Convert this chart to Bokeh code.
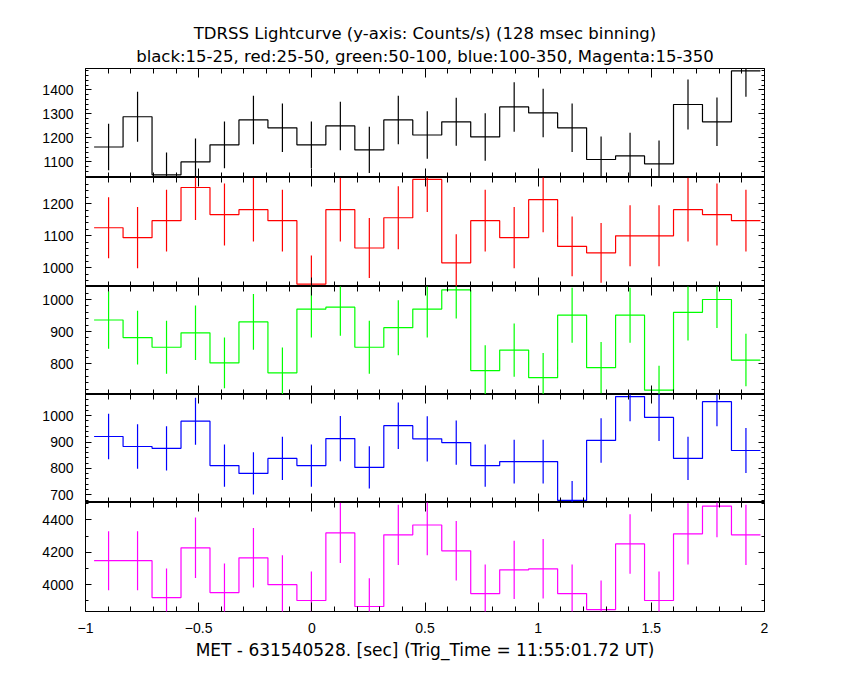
from bokeh.plotting import figure
from bokeh.models import LinearAxis, Title, SingleIntervalTicker, FixedTicker, Range1d
from bokeh.layouts import column
from bokeh.embed import file_html
from bokeh.resources import INLINE

# ---------------- data ----------------
bin_start = -0.962      # left edge of first 128 ms bin (s)
bin_width = 0.128       # bin width (s)

black_rate = [1162, 1288, 1046, 1100, 1171, 1275, 1242, 1171, 1250, 1150, 1275, 1212,
              1267, 1204, 1329, 1304, 1242, 1110, 1125, 1092, 1339, 1267, 1479]
black_err = [97, 104, 93, 97, 97, 101, 101, 97, 101, 96, 101, 99,
             100, 99, 103, 101, 101, 96, 96, 97, 104, 101, 108]

red_rate = [1125, 1094, 1147, 1250, 1166, 1181, 1147, 950, 1181, 1062, 1156, 1275,
            1016, 1147, 1094, 1212, 1067, 1047, 1100, 1100, 1181, 1166, 1147]
red_err = [95, 95, 96, 101, 96, 99, 96, 89, 99, 93, 98, 101,
           89, 96, 95, 101, 93, 93, 95, 95, 99, 96, 96]

green_rate = [936, 881, 851, 896, 802, 930, 771, 970, 976, 851, 912, 970,
              1030, 778, 842, 756, 951, 787, 951, 717, 960, 1000, 811]
green_err = [90, 84, 83, 85, 79, 87, 79, 89, 89, 83, 86, 89,
             89, 79, 83, 77, 86, 80, 86, 76, 88, 89, 82]

blue_rate = [921, 883, 876, 979, 811, 781, 838, 811, 913, 804, 962, 912,
             898, 811, 826, 826, 679, 906, 1072, 993, 838, 1053, 868]
blue_err = [86, 84, 84, 89, 80, 80, 82, 80, 86, 80, 88, 86,
            84, 80, 83, 83, 73, 84, 93, 89, 82, 93, 85]

magenta_rate = [4148, 4148, 3920, 4228, 3951, 4166, 4000, 3902, 4320, 3865, 4308, 4369,
                4209, 3945, 4092, 4098, 3945, 3846, 4252, 3902, 4314, 4486, 4308]
magenta_err = [182, 182, 180, 187, 180, 184, 182, 180, 186, 175, 186, 187,
               184, 180, 180, 184, 180, 180, 184, 180, 189, 193, 186]

x_major_ticks = [-1, -0.5, 0, 0.5, 1, 1.5, 2]
x_tick_labels = {-1: "\u22121", -0.5: "\u22120.5", 0: "0", 0.5: "0.5", 1: "1", 1.5: "1.5", 2: "2"}

title_line1 = "TDRSS Lightcurve (y-axis: Counts/s) (128 msec binning)"
title_line2 = "black:15-25, red:25-50, green:50-100, blue:100-350, Magenta:15-350"
x_label = "MET - 631540528. [sec] (Trig_Time = 11:55:01.72 UT)"

FONT = "DejaVu Sans"
TICK_FONT = "Liberation Sans"
FRAME_W = 679


def multiples(lo, hi, step):
    k = int(lo // step) + 1
    out = []
    while k * step <= hi:
        out.append(round(k * step, 6))
        k += 1
    return out


def base_axis(ax, tick_major, tick_minor):
    ax.axis_line_color = None
    ax.major_tick_line_color = "black"
    ax.minor_tick_line_color = "black"
    ax.major_tick_in = tick_major
    ax.major_tick_out = 0
    ax.minor_tick_in = tick_minor
    ax.minor_tick_out = 0
    ax.major_label_text_font = TICK_FONT
    ax.major_label_text_color = "black"
    ax.major_label_text_font_size = "14px"


def tick_only_axes(p, side, majors, minors, long_len, short_len):
    # label-free ticks: drawn as "minor" ticks of fixed tickers (no major labels)
    for ticks, ln in ((minors, short_len), (majors, long_len)):
        ax = LinearAxis(ticker=FixedTicker(ticks=[], minor_ticks=ticks))
        base_axis(ax, 0, ln)
        ax.major_label_standoff = 0
        p.add_layout(ax, side)


def panel(rate, err, color, ymin, ymax, yint, yminor, h, top=False, bottom=False):
    p = figure(frame_width=FRAME_W, frame_height=h,
               x_range=Range1d(-1, 2), y_range=Range1d(ymin, ymax),
               toolbar_location=None, output_backend="svg",
               x_axis_location=None, y_axis_location=None,
               min_border_left=85, min_border_right=12,
               min_border_top=0, min_border_bottom=0, title=None)
    p.grid.visible = False
    p.outline_line_color = "black"
    p.outline_line_width = 1
    p.background_fill_color = "white"
    p.border_fill_color = "white"

    n = len(rate)
    edges = [bin_start + bin_width * i for i in range(n + 1)]
    centers = [bin_start + bin_width * (i + 0.5) for i in range(n)]
    p.step(x=edges, y=list(rate) + [rate[-1]], mode="after",
           line_color=color, line_width=1.2)
    p.segment(x0=centers, y0=[r - e for r, e in zip(rate, err)],
              x1=centers, y1=[r + e for r, e in zip(rate, err)],
              line_color=color, line_width=1.2)

    # y axis with labels on the left
    left = LinearAxis(ticker=SingleIntervalTicker(interval=yint, num_minor_ticks=yminor))
    base_axis(left, 6, 3)
    left.major_label_standoff = 12
    p.add_layout(left, "left")

    y_majors = multiples(ymin, ymax, yint)
    y_minors = multiples(ymin, ymax, yint / yminor)
    tick_only_axes(p, "right", y_majors, y_minors, 6, 3)

    x_minors = multiples(-1.0001, 2.0001, 0.1)
    tick_only_axes(p, "above", x_major_ticks, x_minors, 9, 5)

    if bottom:
        below = LinearAxis(ticker=SingleIntervalTicker(interval=0.5, num_minor_ticks=5))
        base_axis(below, 9, 5)
        below.major_label_standoff = 11
        below.major_label_overrides = x_tick_labels
        below.axis_label = x_label
        below.axis_label_text_font = FONT
        below.axis_label_text_font_size = "17px"
        below.axis_label_text_font_style = "normal"
        below.axis_label_text_color = "black"
        below.axis_label_standoff = 4
        p.add_layout(below, "below")
    else:
        tick_only_axes(p, "below", x_major_ticks, x_minors, 9, 5)

    if top:
        p.min_border_top = 68
        p.add_layout(Title(text=title_line2, align="center", text_font=FONT,
                           text_font_size="16.5px", text_font_style="normal",
                           text_color="black", standoff=5), "above")
        p.add_layout(Title(text=title_line1, align="center", text_font=FONT,
                           text_font_size="16.5px", text_font_style="normal",
                           text_color="black", standoff=0), "above")
    return p


p1 = panel(black_rate, black_err, "black", 1035, 1489, 100, 5, 109, top=True)
p2 = panel(red_rate, red_err, "#ff0000", 942.5, 1281, 100, 5, 109)
p3 = panel(green_rate, green_err, "#00ff00", 703.4, 1040.6, 100, 5, 108)
p4 = panel(blue_rate, blue_err, "#0000ff", 671, 1080, 100, 5, 108)
p5 = panel(magenta_rate, magenta_err, "#ff00ff", 3834, 4508, 200, 2, 109, bottom=True)

layout = column(p1, p2, p3, p4, p5, spacing=0)

open("out.html", "w").write(file_html(layout, INLINE))
